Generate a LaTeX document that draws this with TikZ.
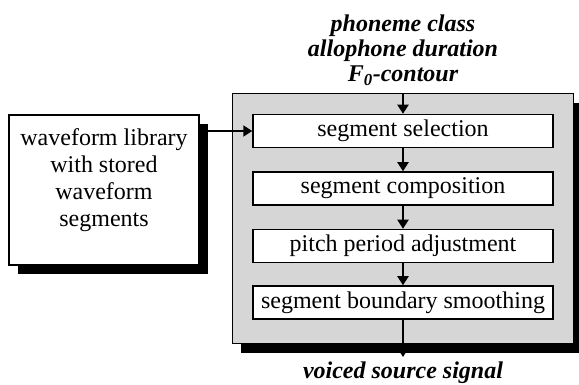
\documentclass[tikz,border=0pt]{standalone}
\usepackage{fontspec}
\setmainfont{Liberation Serif}
\usepackage{tikz}
\usetikzlibrary{arrows.meta,positioning,shadows,fit,backgrounds}
\definecolor{wfgray}{RGB}{214,214,214}
\tikzstyle{arrow} = [line width=2pt,-{Triangle[length=9pt,width=11pt]}]
\tikzstyle{stage} = [rectangle, draw, line width=1.5pt, fill=white, minimum width=300pt, minimum height=33pt, inner sep=0pt, font=\fontsize{24}{27}\selectfont]
\tikzstyle{blackshadow} = [drop shadow={shadow xshift=9pt, shadow yshift=-9pt, fill=black, opacity=1}]
\tikzstyle{annot} = [font=\fontsize{24}{25}\selectfont\bfseries\itshape, inner sep=0pt]

\begin{document}
\begin{tikzpicture}[x=1pt, y=1pt]
\useasboundingbox (0,0) rectangle (579,385);
% synthesis stages
\node (sel) [stage] at (403,254) {segment selection};
\node (comp) [stage, below=23pt of sel] {segment composition};
\node (pitch) [stage, below=23pt of comp] {pitch period adjustment};
\node (smooth) [stage, below=22pt of pitch] {segment boundary smoothing};

% shaded frame round the stages
\begin{pgfonlayer}{background}
\node (frame) [fit=(sel)(smooth), inner xsep=20pt, inner ysep=22pt, yshift=-2pt, draw, line width=1pt, fill=wfgray, blackshadow] {};
\end{pgfonlayer}

% waveform library
\node (lib) [stage, blackshadow, minimum width=190pt, minimum height=150pt, text depth=24pt, align=center] at (104,195) {waveform library\\with stored\\waveform\\segments};

% inputs and output
\node (inputs) [annot, align=center] at (403,335) {phoneme class\\allophone duration\\F\textsubscript{0}-contour};
\coordinate (out) at (403,28);
\node (voiced) [annot] at (403,12) {voiced source signal};

\draw[arrow] (sel.north |- frame.north) -- (sel.north);
\draw[arrow] (lib.east |- sel.west) -- (sel.west);
\draw[arrow] (sel) -- (comp);
\draw[arrow] (comp) -- (pitch);
\draw[arrow] (pitch) -- (smooth);
\draw[arrow] (smooth) -- (out);
\end{tikzpicture}
\end{document}
